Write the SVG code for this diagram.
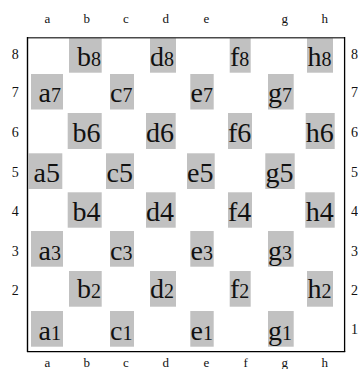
<svg xmlns="http://www.w3.org/2000/svg" width="358" height="369" viewBox="0 0 358 369">
<style>
.sq{fill:#c1c1c1}
.t{font-family:"Liberation Serif","Times New Roman",serif;fill:#111;font-size:28px}
.sd{font-size:20px}
.lbl{font-family:"Liberation Serif","Times New Roman",serif;fill:#111;font-size:13px;text-anchor:middle}
.num{font-family:"Liberation Serif","Times New Roman",serif;fill:#111;font-size:14px}
</style>
<rect width="358" height="369" fill="#fff"/>
<g id="squares">
<!-- row 8 -->
<g id="b8"><rect class="sq" x="69" y="38" width="32.7" height="34.7"/><text class="t" x="77" y="66">b<tspan class="sd">8</tspan></text></g>
<g id="d8"><rect class="sq" x="150" y="38" width="26" height="34.7"/><text class="t" x="150" y="66">d<tspan class="sd">8</tspan></text></g>
<g id="f8"><rect class="sq" x="229.7" y="38" width="21" height="34.7"/><text class="t" x="230" y="66">f<tspan class="sd">8</tspan></text></g>
<g id="h8"><rect class="sq" x="307" y="38" width="26" height="34.7"/><text class="t" x="307.5" y="66">h<tspan class="sd">8</tspan></text></g>
<!-- row 7 -->
<g id="a7"><rect class="sq" x="31" y="74" width="32" height="35.5"/><text class="t" x="38.5" y="102">a<tspan class="sd">7</tspan></text></g>
<g id="c7"><rect class="sq" x="110" y="74" width="24" height="35.5"/><text class="t" x="110" y="102">c<tspan class="sd">7</tspan></text></g>
<g id="e7"><rect class="sq" x="190.3" y="74" width="23.4" height="35.5"/><text class="t" x="190.5" y="102">e<tspan class="sd">7</tspan></text></g>
<g id="g7"><rect class="sq" x="268" y="74" width="25.7" height="35.5"/><text class="t" x="268" y="102">g<tspan class="sd">7</tspan></text></g>
<!-- row 6 -->
<g id="b6"><rect class="sq" x="67.7" y="113" width="34" height="36"/><text class="t" x="72.5" y="141.5">b6</text></g>
<g id="d6"><rect class="sq" x="146" y="113" width="29.7" height="36"/><text class="t" x="146" y="141.5">d6</text></g>
<g id="f6"><rect class="sq" x="228" y="113" width="24" height="36"/><text class="t" x="228" y="141.5">f6</text></g>
<g id="h6"><rect class="sq" x="305.7" y="113" width="29" height="36"/><text class="t" x="305.7" y="141.5">h6</text></g>
<!-- row 5 -->
<g id="a5"><rect class="sq" x="28.7" y="153.3" width="33.6" height="35.7"/><text class="t" x="33.5" y="181.5">a5</text></g>
<g id="c5"><rect class="sq" x="106" y="153.3" width="28" height="35.7"/><text class="t" x="106.5" y="181.5">c5</text></g>
<g id="e5"><rect class="sq" x="187" y="153.3" width="27.7" height="35.7"/><text class="t" x="187" y="181.5">e5</text></g>
<g id="g5"><rect class="sq" x="265.3" y="153.3" width="29.4" height="35.7"/><text class="t" x="265.5" y="181.5">g5</text></g>
<!-- row 4 -->
<g id="b4"><rect class="sq" x="67.7" y="192.3" width="34" height="35.4"/><text class="t" x="72.5" y="220.5">b4</text></g>
<g id="d4"><rect class="sq" x="146" y="192.3" width="29.7" height="35.4"/><text class="t" x="146" y="220.5">d4</text></g>
<g id="f4"><rect class="sq" x="228" y="192.3" width="24" height="35.4"/><text class="t" x="228" y="220.5">f4</text></g>
<g id="h4"><rect class="sq" x="305.3" y="192.3" width="29.4" height="35.4"/><text class="t" x="305.7" y="220.5">h4</text></g>
<!-- row 3 -->
<g id="a3"><rect class="sq" x="31" y="231" width="32" height="35.7"/><text class="t" x="38.5" y="259.5">a<tspan class="sd">3</tspan></text></g>
<g id="c3"><rect class="sq" x="110" y="231" width="24" height="35.7"/><text class="t" x="110" y="259.5">c<tspan class="sd">3</tspan></text></g>
<g id="e3"><rect class="sq" x="190.3" y="231" width="23.4" height="35.7"/><text class="t" x="190.5" y="259.5">e<tspan class="sd">3</tspan></text></g>
<g id="g3"><rect class="sq" x="268" y="231" width="25.7" height="35.7"/><text class="t" x="268" y="259.5">g<tspan class="sd">3</tspan></text></g>
<!-- row 2 -->
<g id="b2"><rect class="sq" x="69" y="271" width="32.7" height="35.7"/><text class="t" x="77" y="298">b<tspan class="sd">2</tspan></text></g>
<g id="d2"><rect class="sq" x="150" y="271" width="26" height="35.7"/><text class="t" x="150" y="298">d<tspan class="sd">2</tspan></text></g>
<g id="f2"><rect class="sq" x="229.7" y="271" width="21" height="35.7"/><text class="t" x="230" y="298">f<tspan class="sd">2</tspan></text></g>
<g id="h2"><rect class="sq" x="307" y="271" width="26" height="35.7"/><text class="t" x="307.5" y="298">h<tspan class="sd">2</tspan></text></g>
<!-- row 1 -->
<g id="a1"><rect class="sq" x="31" y="311" width="32" height="35.7"/><text class="t" x="38.5" y="339.5">a<tspan class="sd">1</tspan></text></g>
<g id="c1"><rect class="sq" x="110" y="311" width="24" height="35.7"/><text class="t" x="110" y="339.5">c<tspan class="sd">1</tspan></text></g>
<g id="e1"><rect class="sq" x="190.3" y="311" width="23.4" height="35.7"/><text class="t" x="190.5" y="339.5">e<tspan class="sd">1</tspan></text></g>
<g id="g1"><rect class="sq" x="268" y="311" width="25.7" height="35.7"/><text class="t" x="268" y="339.5">g<tspan class="sd">1</tspan></text></g>
</g>
<g id="board">
<line x1="27.5" y1="37.8" x2="345" y2="37.8" stroke="#4a4a4a" stroke-width="1.5"/>
<line x1="27.5" y1="37" x2="27.5" y2="352" stroke="#000" stroke-width="1.4"/>
<line x1="344.6" y1="37" x2="344.6" y2="352" stroke="#000" stroke-width="1.3"/>
<line x1="27" y1="351.6" x2="345.2" y2="351.6" stroke="#000" stroke-width="1.3"/>
</g>
<g id="connectors"/>
<g id="labels">
<text class="lbl" x="47.5" y="22.5">a</text>
<text class="lbl" x="86.7" y="22.5">b</text>
<text class="lbl" x="126" y="22.5">c</text>
<text class="lbl" x="165.7" y="22.5">d</text>
<text class="lbl" x="206.3" y="22.5">e</text>
<text class="lbl" x="284.7" y="22.5">g</text>
<text class="lbl" x="324.7" y="22.5">h</text>
<text class="lbl" x="47.5" y="367">a</text>
<text class="lbl" x="86.7" y="367">b</text>
<text class="lbl" x="126" y="367">c</text>
<text class="lbl" x="165.7" y="367">d</text>
<text class="lbl" x="206.3" y="367">e</text>
<text class="lbl" x="245.7" y="367">f</text>
<text class="lbl" x="284.7" y="367">g</text>
<text class="lbl" x="324.7" y="367">h</text>
<g class="num" text-anchor="middle">
<text x="15.3" y="59.3">8</text>
<text x="15.3" y="97.3">7</text>
<text x="15.3" y="137.3">6</text>
<text x="15.3" y="177.3">5</text>
<text x="15.3" y="216">4</text>
<text x="15.3" y="255.5">3</text>
<text x="15.3" y="295">2</text>
</g>
<g class="num">
<text x="351" y="59.3">8</text>
<text x="351" y="97.3">7</text>
<text x="351" y="137.3">6</text>
<text x="351" y="177.3">5</text>
<text x="351" y="216">4</text>
<text x="351" y="255.5">3</text>
<text x="351" y="295">2</text>
<text x="351" y="333.5">1</text>
</g>
</g>
</svg>
